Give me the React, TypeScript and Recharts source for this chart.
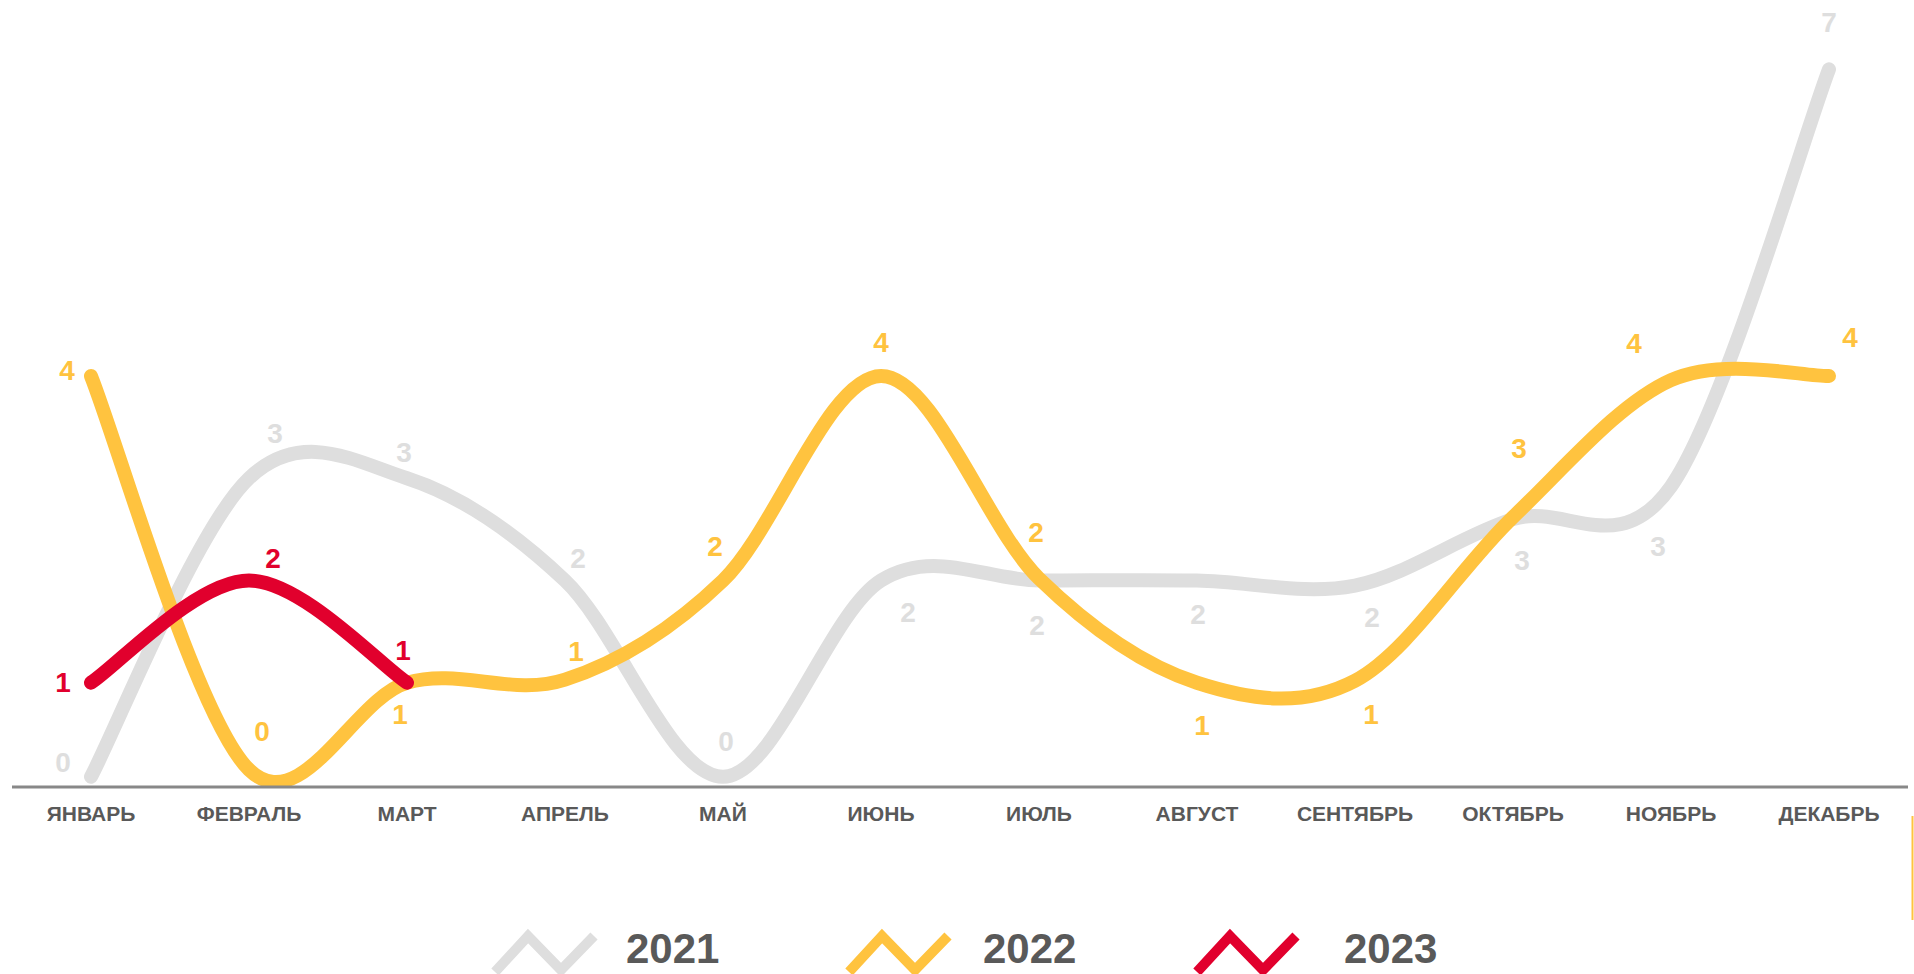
import React from 'react';
import { LineChart, Line, XAxis, YAxis, LabelList } from 'recharts';

// ---- data ----
const months = ['ЯНВАРЬ', 'ФЕВРАЛЬ', 'МАРТ', 'АПРЕЛЬ', 'МАЙ', 'ИЮНЬ', 'ИЮЛЬ', 'АВГУСТ', 'СЕНТЯБРЬ', 'ОКТЯБРЬ', 'НОЯБРЬ', 'ДЕКАБРЬ'];
const values2021 = [0.08, 3.0, 3.0, 2.0, 0.08, 2.0, 2.0, 2.0, 1.95, 2.6, 2.92, 7.0];
const values2022 = [4.0, 0.15, 1.0, 1.03, 2.0, 4.0, 2.02, 1.0, 1.02, 2.62, 3.96, 4.0];
const values2023 = [1, 2, 1];
const seriesNames = ['2021', '2022', '2023'];

// ---- styles ----
const colors = ['#dedede', '#ffc33f', '#e1002d'];
const FONT = "'Liberation Sans', Arial, sans-serif";

// label placement offsets (dx, dy) relative to each point
const labelOffsets2021 = [[-28, -14], [26, -45], [-3, -26], [13, -22], [3, -35], [27, 32], [-2, 45], [1, 34], [17, 32], [9, 41], [-13, 60], [0, -47]];
const labelOffsets2022 = [[-24, -6], [13, -38], [-7, 32], [11, -28], [-8, -34], [0, -34], [-3, -46], [5, 43], [16, 34], [6, -69], [-37, -37], [21, -39]];
const labelOffsets2023 = [[-28, 0], [24, -22], [-4, -32]];

const data = months.map((m, i) => ({
  month: m,
  y2021: values2021[i] ?? null,
  y2022: values2022[i] ?? null,
  y2023: values2023[i] ?? null,
}));

// Catmull-Rom style smoothing (Excel-like smoothed line)
function smoothCurve(context: any) {
  let pts: number[][] = [];
  return {
    areaStart() {},
    areaEnd() {},
    lineStart() { pts = []; },
    lineEnd() {
      const n = pts.length;
      if (n === 0) return;
      context.moveTo(pts[0][0], pts[0][1]);
      for (let i = 0; i < n - 1; i++) {
        const p0 = pts[Math.max(0, i - 1)];
        const p1 = pts[i];
        const p2 = pts[i + 1];
        const p3 = pts[Math.min(n - 1, i + 2)];
        context.bezierCurveTo(
          p1[0] + (p2[0] - p0[0]) / 6, p1[1] + (p2[1] - p0[1]) / 6,
          p2[0] - (p3[0] - p1[0]) / 6, p2[1] - (p3[1] - p1[1]) / 6,
          p2[0], p2[1]
        );
      }
    },
    point(x: number, y: number) { pts.push([+x, +y]); },
  };
}

const PLOT_LEFT = 12;

const makeLabel = (offsets: number[][], color: string) => (props: any) => {
  const { x, y, value } = props;
  if (value == null || x == null || y == null) return null;
  const idx = typeof props.index === 'number' ? props.index : Math.round((x - PLOT_LEFT - 79) / 158);
  const off = offsets[idx] || [0, -30];
  return (
    <text
      x={x + off[0]}
      y={y + off[1]}
      textAnchor="middle"
      dominantBaseline="central"
      fill={color}
      fontFamily={FONT}
      fontWeight="bold"
      fontSize={28}
    >
      {Math.round(value)}
    </text>
  );
};

const MonthTick = (props: any) => {
  const { x, y, payload } = props;
  return (
    <text x={x} y={y + 26} textAnchor="middle" dominantBaseline="central" fill="#595959" fontFamily={FONT} fontWeight="bold" fontSize={21}>
      {payload.value}
    </text>
  );
};

const legendIcons = [
  { ix: 495, tx: 626 },
  { ix: 849, tx: 983 },
  { ix: 1197, tx: 1344 },
];

export default function App() {
  return (
    <div style={{ position: 'absolute', left: 0, top: 0, width: 1914, height: 974, overflow: 'hidden', background: '#fff' }}>
      <LineChart
        width={1914}
        height={974}
        data={data}
        margin={{ top: 8, right: 6, left: PLOT_LEFT, bottom: 147 }}
      >
        <YAxis hide domain={[-0.02, 7.6]} type="number" allowDataOverflow />
        <XAxis
          dataKey="month"
          padding={{ left: 79, right: 79 }}
          axisLine={{ stroke: '#888888', strokeWidth: 3 }}
          tickLine={false}
          tickSize={0}
          tickMargin={0}
          height={40}
          interval={0}
          tick={<MonthTick />}
        />
        <Line dataKey="y2021" type={smoothCurve as any} stroke={colors[0]} strokeWidth={14} strokeLinecap="round" strokeLinejoin="round" dot={false} activeDot={false} isAnimationActive={false}>
          <LabelList dataKey="y2021" content={makeLabel(labelOffsets2021, colors[0])} />
        </Line>
        <Line dataKey="y2022" type={smoothCurve as any} stroke={colors[1]} strokeWidth={14} strokeLinecap="round" strokeLinejoin="round" dot={false} activeDot={false} isAnimationActive={false}>
          <LabelList dataKey="y2022" content={makeLabel(labelOffsets2022, colors[1])} />
        </Line>
        <Line dataKey="y2023" type={smoothCurve as any} stroke={colors[2]} strokeWidth={14} strokeLinecap="round" strokeLinejoin="round" dot={false} activeDot={false} isAnimationActive={false}>
          <LabelList dataKey="y2023" content={makeLabel(labelOffsets2023, colors[2])} />
        </Line>
      </LineChart>
      <svg width={1914} height={974} style={{ position: 'absolute', left: 0, top: 0, pointerEvents: 'none' }}>
        {seriesNames.map((name, i) => {
          const { ix, tx } = legendIcons[i];
          return (
            <g key={name}>
              <polyline
                points={`${ix},972 ${ix + 33},936 ${ix + 66},970 ${ix + 99},936`}
                fill="none"
                stroke={colors[i]}
                strokeWidth={10}
                strokeLinecap="butt"
                strokeLinejoin="miter"
              />
              <text x={tx} y={963} fill="#595959" fontFamily={FONT} fontWeight="bold" fontSize={42}>
                {name}
              </text>
            </g>
          );
        })}
        <line x1={1912.5} y1={816} x2={1912.5} y2={920} stroke={colors[1]} strokeWidth={2} />
      </svg>
    </div>
  );
}
